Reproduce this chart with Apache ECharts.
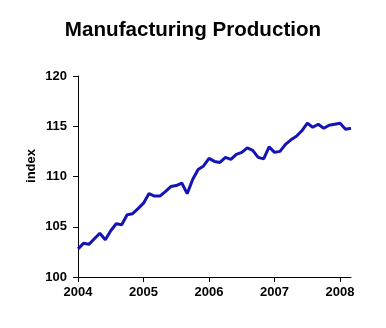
<!DOCTYPE html>
<html>
<head>
<meta charset="utf-8">
<script src="https://cdn.jsdelivr.net/npm/echarts@6/dist/echarts.min.js"></script>
<style>
  html, body { margin: 0; padding: 0; background: #fff; }
  #chart { width: 386px; height: 328px; }
</style>
</head>
<body>
<div id="chart"></div>
<script>
// Monthly manufacturing production index, Jan 2004 – Mar 2008
const years = [2004, 2005, 2006, 2007, 2008];
const months = [];
years.forEach(y => {
  for (let m = 1; m <= 12; m++) {
    if (y === 2008 && m > 3) break;
    months.push(y + '-' + String(m).padStart(2, '0'));
  }
});
const productionIndex = [
  102.8, 103.35, 103.25, 103.8, 104.35, 103.7, 104.6, 105.3, 105.2, 106.2, 106.3, 106.8,
  107.35, 108.3, 108.05, 108.05, 108.5, 109.0, 109.1, 109.35, 108.3, 109.7, 110.7, 111.05,
  111.8, 111.5, 111.4, 111.9, 111.7, 112.2, 112.4, 112.85, 112.6, 111.9, 111.75, 112.95,
  112.4, 112.5, 113.2, 113.65, 114.0, 114.55, 115.3, 114.9, 115.2, 114.8, 115.1, 115.2,
  115.3, 114.7, 114.8
];
const yTicks = [100, 105, 110, 115, 120];

const font = 'Liberation Sans, Arial, sans-serif';
const chart = echarts.init(document.getElementById('chart'), null, { renderer: 'canvas' });
chart.setOption({
  animation: false,
  backgroundColor: '#fff',
  title: {
    text: 'Manufacturing Production',
    left: 'center',
    top: 15,
    textStyle: { fontFamily: font, fontSize: 20.6, fontWeight: 'bold', color: '#000' }
  },
  grid: { left: 78, right: 35, top: 76, bottom: 51, containLabel: false },
  xAxis: {
    type: 'category',
    data: months,
    boundaryGap: false,
    axisLine: { lineStyle: { color: '#000', width: 1 } },
    axisTick: { interval: 11, length: 5, lineStyle: { color: '#000' } },
    axisLabel: {
      interval: 11,
      margin: 9,
      formatter: v => v.slice(0, 4),
      fontFamily: font, fontSize: 13, fontWeight: 'bold', color: '#000'
    },
    splitLine: { show: false }
  },
  yAxis: {
    type: 'value',
    min: yTicks[0],
    max: yTicks[yTicks.length - 1],
    interval: 5,
    axisLine: { show: true, lineStyle: { color: '#000', width: 1 } },
    axisTick: { show: true, length: 5, lineStyle: { color: '#000' } },
    axisLabel: { margin: 11, fontFamily: font, fontSize: 13, fontWeight: 'bold', color: '#000' },
    splitLine: { show: false }
  },
  graphic: [{
    type: 'text',
    x: 31,
    y: 166,
    rotation: Math.PI / 2,
    style: {
      text: 'index',
      fontFamily: font, fontSize: 13, fontWeight: 'bold', fill: '#000',
      align: 'center', verticalAlign: 'middle'
    }
  }],
  series: [{
    type: 'line',
    data: productionIndex,
    showSymbol: false,
    lineStyle: { color: '#1414b4', width: 3 },
    itemStyle: { color: '#1414b4' }
  }]
});
</script>
</body>
</html>
